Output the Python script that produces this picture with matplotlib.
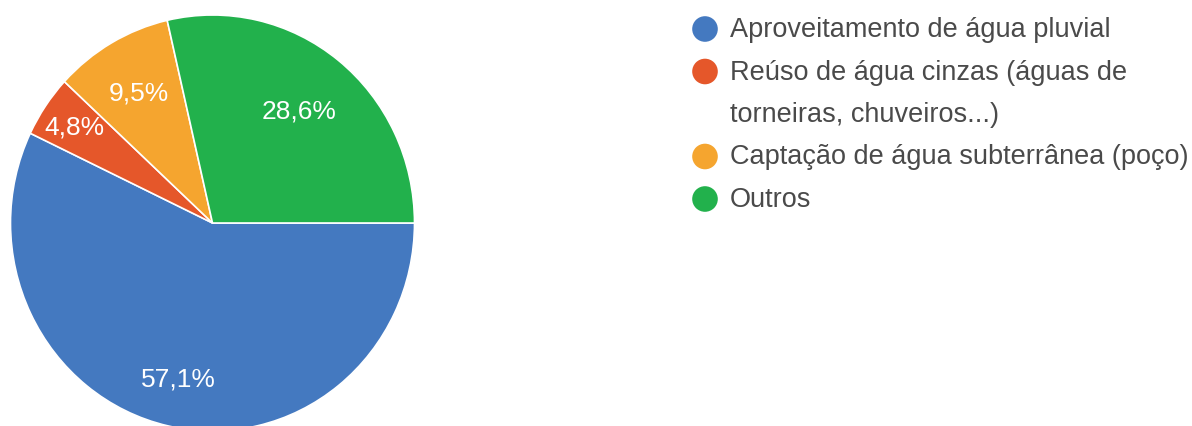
import matplotlib.pyplot as plt
plt.switch_backend('agg')
import numpy as np

# share of each option (percent)
labels = ['Aproveitamento de água pluvial',
          'Reúso de água cinzas (águas de\ntorneiras, chuveiros...)',
          'Captação de água subterrânea (poço)',
          'Outros']
values = [57.1, 4.8, 9.5, 28.6]
colors = ['#4479c0', '#e5572a', '#f5a52f', '#22b14c']

W, H = 1192, 427
fig = plt.figure(figsize=(W / 100, H / 100), dpi=100)

# pie centred at (212.5, 224) px, slightly taller than wide
cx, cy, rx, ry = 212.5, 224, 202, 208
ax = fig.add_axes([(cx - rx) / W, (H - cy - ry) / H, 2 * rx / W, 2 * ry / H])
wedges, texts, autotexts = ax.pie(
    values, colors=colors, startangle=0, counterclock=False,
    autopct=lambda p: ('%.1f%%' % p).replace('.', ','),
    wedgeprops=dict(edgecolor='white', linewidth=1.2),
    textprops=dict(color='white', fontsize=19, family='Liberation Sans'))
ax.set_xlim(-1, 1)
ax.set_ylim(-1, 1)
ax.set_aspect('auto')

# label distance from the centre, per slice
label_dist = [0.765, 0.825, 0.725, 0.69]
for w, t, d in zip(wedges, autotexts, label_dist):
    mid = np.deg2rad((w.theta1 + w.theta2) / 2)
    t.set_position((d * np.cos(mid), d * np.sin(mid)))
    t.set_ha('center')
    t.set_va('center')

# legend drawn on an overlay in pixel coordinates
lax = fig.add_axes([0, 0, 1, 1])
lax.set_xlim(0, W)
lax.set_ylim(H, 0)
lax.axis('off')
lax.patch.set_alpha(0)

y = 30
for lab, col in zip(labels, colors):
    lax.scatter([705], [y], s=340, color=col, edgecolors='none')
    for line in lab.split('\n'):
        lax.text(730, y, line, fontsize=19.5, color='#4a4a4a',
                 family='Liberation Sans', va='center', ha='left')
        y += 42.5

fig.savefig('out.png', dpi=100)
